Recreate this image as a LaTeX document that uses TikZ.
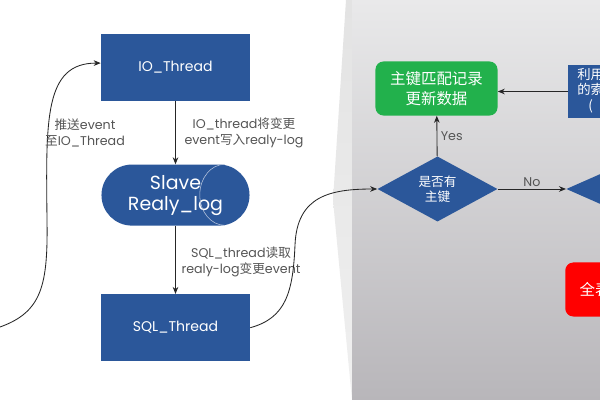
\documentclass[tikz,border=0pt]{standalone}
\usepackage{fontspec}
\setmainfont{Poppins}
\newfontfamily\cjk{Noto Sans CJK SC}
\newcommand{\zh}[1]{{\cjk #1}}
\usetikzlibrary{shapes.geometric, arrows.meta, positioning, calc}
\definecolor{threadblue}{RGB}{43, 87, 154}
\definecolor{matchgreen}{RGB}{34, 177, 76}
\definecolor{scanred}{RGB}{255, 0, 0}
\definecolor{notegray}{RGB}{85, 85, 85}
\definecolor{paneltop}{RGB}{233, 233, 234}
\definecolor{panelbottom}{RGB}{184, 182, 186}

\begin{document}
\begin{tikzpicture}[
    x=0.025cm, y=-0.025cm,
    box/.style={rectangle, fill=threadblue, text=white, align=center,
                minimum width=3.725cm, minimum height=1.675cm,
                font=\fontsize{10}{12}\selectfont},
    store/.style={rectangle, rounded corners=0.76cm, fill=threadblue, text=white,
                  align=center, minimum width=3.7cm, minimum height=1.525cm,
                  inner sep=1pt, font=\fontsize{13.5}{15}\selectfont},
    decision/.style={diamond, fill=threadblue, text=white, align=center, inner sep=0pt,
                     minimum width=3cm, minimum height=1.325cm,
                     font=\cjk\fontsize{9}{11}\selectfont},
    action/.style={rectangle, rounded corners=0.2cm, text=white, align=center,
                   minimum width=3.05cm, minimum height=1.35cm,
                   font=\cjk\fontsize{11}{14}\selectfont},
    note/.style={text=notegray, align=center, inner sep=1pt,
                 font=\fontsize{9}{11}\selectfont},
    arrow/.style={-{Stealth[length=5pt, width=4pt]}, line width=0.6pt, black!85}
]
    % background and grey panel
    \useasboundingbox (0,0) rectangle (600,400);
    \clip (0,0) rectangle (600,400);
    \fill[white] (0,0) rectangle (600,400);
    \shade[top color=black!11, bottom color=black!6] (346,0) -- (333,200) -- (352,400) -- (352,0) -- cycle;
    \shade[top color=paneltop, bottom color=panelbottom] (352,0) rectangle (600,400);

    % slave side
    \node[box] (io) at (175.5,67.5) {IO\_Thread};
    \node[store, below=1.575cm of io] (slave) {Slave\\Realy\_log};
    \draw[threadblue!35!white, line width=0.4pt] ([xshift=-0.625cm]slave.north east)
        arc[start angle=90, end angle=270, x radius=0.625cm, y radius=0.7625cm];
    \node[box, below=1.7cm of slave] (sql) {SQL\_Thread};

    \draw[arrow] (io) -- (slave);
    \draw[arrow] (slave) -- (sql);
    \node[note] (iolabel) at (244,133) {IO\_thread\zh{将变更}\\event\zh{写入}realy-log};
    \node[note] (sqllabel) at (241,262) {SQL\_thread\zh{读取}\\realy-log\zh{变更}event};

    \coordinate (master) at (0,327);
    \draw[arrow] (master) .. controls (42,312) and (48,285) .. (47,220)
        .. controls (46,120) and (44,63) .. ([yshift=0.11cm]io.west);
    \node[note] (pushlabel) at (85,133) {\zh{推送}event\\\zh{至}IO\_Thread};

    % row change handling
    \node[decision] (haskey) at (437.5,189) {是否有\\主键};
    \node[action, fill=matchgreen] (update) at (436.5,88.5) {主键匹配记录\\更新数据};
    \node[box, anchor=west, minimum width=3cm, minimum height=1.325cm, inner sep=0pt] (index) at (568,91.5) {};
    \node[font=\cjk\fontsize{9.5}{11}\selectfont, text=white, align=center, anchor=north west, inner sep=0pt] (indextext) at (577,68) {利用\\的索\\(};
    \node[decision, anchor=west] (secondkey) at (566,189) {};
    \node[action, fill=scanred, anchor=west, text width=2.6cm, align=left, inner xsep=0.36cm] (fullscan) at (565,289.5) {全表};

    \draw[arrow] (sql.east) .. controls (286,318) and (293,292) .. (295,245)
        .. controls (297,196) and (330,189) .. (haskey.west);
    \draw[arrow] (haskey) -- (update) node[note, pos=0.5, right=0.05cm] {Yes};
    \draw[arrow] (haskey) -- (secondkey) node[note, pos=0.5, above=0.02cm] {No};
    \draw[arrow] (index.west) -- (index.west -| update.east);
\end{tikzpicture}
\end{document}
